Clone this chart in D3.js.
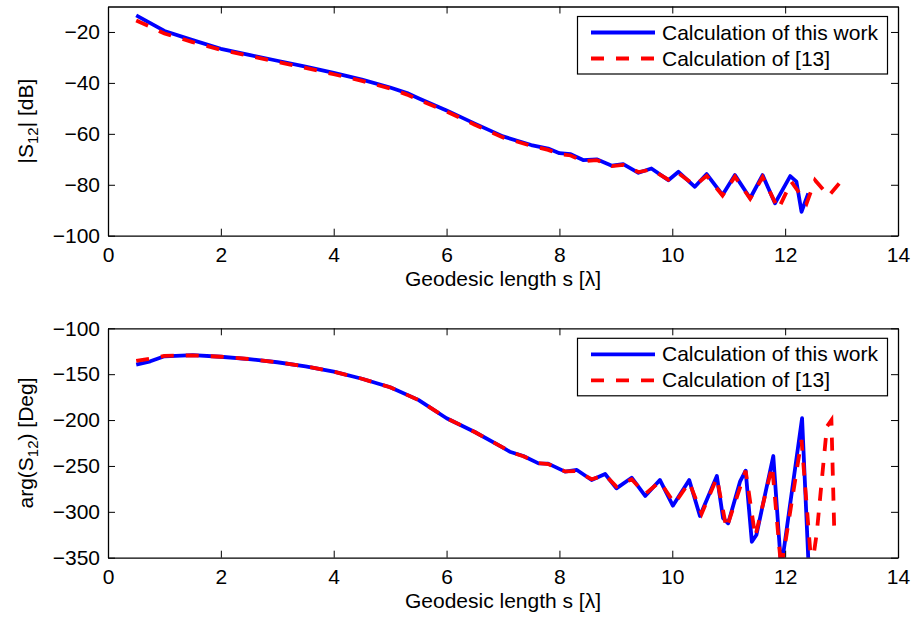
<!DOCTYPE html>
<html>
<head>
<meta charset="utf-8">
<script src="https://cdn.jsdelivr.net/npm/d3@7"></script>
<style>
  html, body { margin: 0; padding: 0; background: #fff; }
  svg { display: block; font-family: "Liberation Sans", Arial, Helvetica, sans-serif; }
</style>
</head>
<body>
<div class="container"></div>
<script>
// ---- data ----
// top panel: |S12| [dB]
const sMagThis = [0.5, 0.75, 1.0, 1.5, 2.0, 2.5, 3.0, 3.5, 4.0, 4.5, 5.0, 5.3, 5.5, 6.0, 6.5, 7.0, 7.5, 7.8, 8.0, 8.2, 8.42, 8.66, 8.93, 9.13, 9.4, 9.63, 9.93, 10.11, 10.4, 10.61, 10.89, 11.11, 11.38, 11.6, 11.82, 12.09, 12.2, 12.29, 12.41];
const magThis  = [-13.5, -16.5, -19.6, -23.2, -26.6, -29.0, -31.3, -33.6, -36.1, -38.7, -41.8, -44.0, -46.0, -50.8, -56.0, -61.0, -64.4, -65.8, -67.6, -68.0, -70.3, -70.0, -72.5, -71.9, -75.3, -73.6, -78.2, -74.9, -80.8, -75.8, -84.0, -76.2, -85.3, -76.2, -87.3, -76.6, -78.8, -90.6, -83.4];
const sMagRef  = [0.5, 0.75, 1.0, 1.5, 2.0, 2.5, 3.0, 3.5, 4.0, 4.5, 5.0, 5.3, 5.5, 6.0, 6.5, 7.0, 7.5, 7.8, 8.0, 8.2, 8.42, 8.66, 8.93, 9.13, 9.4, 9.63, 9.93, 10.11, 10.4, 10.61, 10.89, 11.11, 11.38, 11.6, 11.88, 12.11, 12.38, 12.53, 12.77, 12.97];
const magRef   = [-15.5, -18.0, -20.6, -24.0, -27.0, -29.4, -31.7, -34.1, -36.6, -39.2, -42.2, -44.6, -46.6, -51.2, -56.4, -61.4, -64.7, -66.3, -68.0, -68.5, -70.8, -70.3, -72.7, -72.2, -75.0, -74.0, -78.0, -75.5, -80.3, -76.5, -84.2, -76.8, -85.5, -77.0, -89.5, -78.8, -87.3, -78.2, -84.4, -79.2];

// bottom panel: arg(S12) [Deg]
const sArgThis = [0.5, 0.75, 1.0, 1.5, 2.0, 2.5, 3.0, 3.5, 4.0, 4.5, 5.0, 5.5, 6.0, 6.5, 7.0, 7.12, 7.36, 7.63, 7.8, 8.1, 8.31, 8.57, 8.81, 9.01, 9.28, 9.52, 9.78, 10.01, 10.3, 10.49, 10.79, 10.9, 10.99, 11.2, 11.3, 11.41, 11.49, 11.79, 11.93, 12.3, 12.42];
const argThis  = [-139.5, -136, -130.5, -129.2, -131, -133.5, -137, -141.5, -147.3, -155, -164.3, -178, -198, -213, -230, -234.5, -239.2, -247.2, -247.5, -256.2, -254.4, -265.3, -258.8, -274.4, -262.8, -282.7, -265.3, -293.3, -265.3, -304.5, -261, -307, -312.5, -267.2, -255.2, -332.6, -325.3, -239.2, -362, -198, -365];
const sArgRef  = [0.5, 0.75, 1.0, 1.5, 2.0, 2.5, 3.0, 3.5, 4.0, 4.5, 5.0, 5.5, 6.0, 6.5, 7.0, 7.12, 7.36, 7.63, 7.8, 8.1, 8.31, 8.57, 8.81, 9.01, 9.28, 9.52, 9.78, 10.04, 10.3, 10.52, 10.79, 10.96, 11.3, 11.47, 11.77, 11.93, 12.29, 12.47, 12.56, 12.74, 12.82, 12.87];
const argRef   = [-135.6, -133, -130, -129.5, -131, -133.5, -137, -141.5, -147.3, -155, -164.3, -178, -198, -213, -230, -234.5, -239.5, -247, -248, -256, -255.5, -264.5, -260, -272.5, -264.5, -280.5, -267, -291, -268, -302, -263, -318, -255.2, -327, -250, -362, -221.7, -362, -323.4, -207.2, -200, -319.8];

const xTicks = [0, 2, 4, 6, 8, 10, 12, 14];
const magTicks = [-100, -80, -60, -40, -20];
const argTicks = [-350, -300, -250, -200, -150, -100];
const legendLabels = ["Calculation of this work", "Calculation of [13]"];

const W = 914, H = 617;
const FONT = 21;

const svg = d3.select(".container").append("svg")
  .attr("width", W).attr("height", H)
  .style("background", "#fff");

function drawPanel(p) {
  const x = d3.scaleLinear().domain([0, 14]).range([108, 898]);
  const y = d3.scaleLinear().domain(p.yDomain).range([p.bottom, p.top]);

  const g = svg.append("g");

  g.append("clipPath").attr("id", p.id)
    .append("rect")
    .attr("x", 108).attr("y", p.top)
    .attr("width", 790).attr("height", p.bottom - p.top);

  const line = d3.line().x(d => x(d[0])).y(d => y(d[1]));
  const lines = g.append("g").attr("clip-path", `url(#${p.id})`);

  lines.append("path")
    .attr("d", line(d3.zip(p.sThis, p.vThis)))
    .attr("fill", "none")
    .attr("stroke", "#0000ff")
    .attr("stroke-width", 3.8)
    .attr("stroke-linejoin", "round");

  lines.append("path")
    .attr("d", line(d3.zip(p.sRef, p.vRef)))
    .attr("fill", "none")
    .attr("stroke", "#ff0000")
    .attr("stroke-width", 3.8)
    .attr("stroke-dasharray", "13,12");

  // axes, ticks pointing inward like matlab
  const style = sel => {
    sel.attr("font-size", FONT).attr("font-family", null);
    sel.select(".domain").attr("stroke", "#000").attr("stroke-width", 1.3);
    sel.selectAll(".tick line").attr("stroke", "#000").attr("stroke-width", 1);
    sel.selectAll(".tick text").attr("fill", "#000");
  };

  g.append("g").attr("transform", `translate(0,${p.bottom})`)
    .call(d3.axisBottom(x).tickValues(xTicks).tickSize(-7).tickSizeOuter(0).tickPadding(11))
    .call(style);
  g.append("g").attr("transform", `translate(0,${p.top})`)
    .call(d3.axisTop(x).tickValues(xTicks).tickSize(-7).tickSizeOuter(0).tickFormat(""))
    .call(style);
  g.append("g").attr("transform", "translate(108,0)")
    .call(d3.axisLeft(y).tickValues(p.yTicks).tickSize(-7).tickSizeOuter(0).tickPadding(8))
    .call(style);
  g.append("g").attr("transform", "translate(898,0)")
    .call(d3.axisRight(y).tickValues(p.yTicks).tickSize(-7).tickSizeOuter(0).tickFormat(""))
    .call(style);

  // x label
  g.append("text")
    .attr("x", 503).attr("y", p.bottom + 50)
    .attr("text-anchor", "middle")
    .attr("font-size", FONT)
    .text("Geodesic length s [\u03bb]");

  // y label with subscript
  const yl = g.append("text")
    .attr("transform", `translate(33,${(p.top + p.bottom) / 2}) rotate(-90)`)
    .attr("text-anchor", "middle")
    .attr("font-size", FONT);
  yl.append("tspan").text(p.yPre);
  yl.append("tspan").attr("font-size", 15).attr("dy", 5).text("12");
  yl.append("tspan").attr("dy", -5).text(p.yPost);

  // legend
  const lg = g.append("g");
  lg.append("rect")
    .attr("x", 577.5).attr("y", p.top + 10)
    .attr("width", 310).attr("height", 57.5)
    .attr("fill", "#fff").attr("stroke", "#000").attr("stroke-width", 1.2);
  const rows = [{c: "#0000ff", dash: null}, {c: "#ff0000", dash: "13,12"}];
  rows.forEach((r, i) => {
    const ly = p.top + 26 + i * 26;
    lg.append("line")
      .attr("x1", 591).attr("x2", 655).attr("y1", ly).attr("y2", ly)
      .attr("stroke", r.c).attr("stroke-width", 3.8)
      .attr("stroke-dasharray", r.dash);
    lg.append("text")
      .attr("x", 662).attr("y", ly + 7)
      .attr("font-size", FONT)
      .text(legendLabels[i]);
  });
}

drawPanel({
  id: "clipTop", top: 6.5, bottom: 235.7,
  yDomain: [-100, -10], yTicks: magTicks,
  sThis: sMagThis, vThis: magThis, sRef: sMagRef, vRef: magRef,
  yPre: "|S", yPost: "| [dB]"
});

drawPanel({
  id: "clipBottom", top: 328.3, bottom: 557.7,
  yDomain: [-350, -100], yTicks: argTicks,
  sThis: sArgThis, vThis: argThis, sRef: sArgRef, vRef: argRef,
  yPre: "arg(S", yPost: ") [Deg]"
});
</script>
</body>
</html>
